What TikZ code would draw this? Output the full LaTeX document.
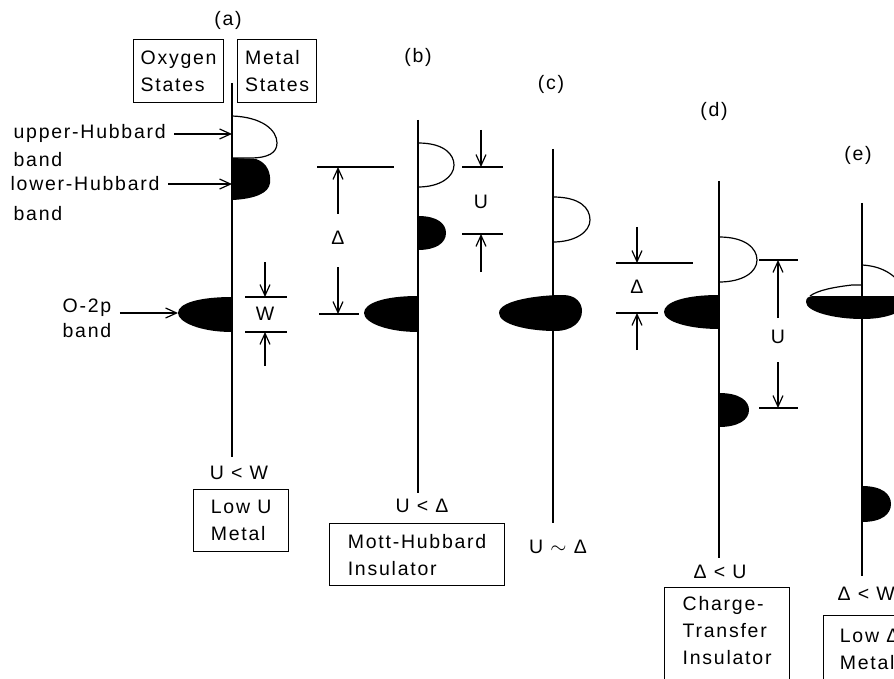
\documentclass[tikz,border=0pt]{standalone}
\usepackage{fontspec}
\setmainfont{Liberation Sans}[LetterSpace=9]
\usetikzlibrary{arrows.meta,positioning}

\begin{document}
\begin{tikzpicture}[x=1pt,y=-1pt,line width=1.2pt,
    font=\fontsize{19.5}{27}\selectfont,
    >={Straight Barb[length=11pt,width=10pt]},
    lbl/.style={anchor=base west,inner sep=0pt},
    clbl/.style={anchor=base,inner sep=0pt},
    casebox/.style={draw,anchor=north west,align=left,inner sep=0pt},
    occ/.style={fill=black},
    unocc/.style={draw,fill=white}]
  \useasboundingbox (0,0) rectangle (894,679);
  \clip (0,0) rectangle (894,679);

  % bands
  \draw[unocc] (232,116) .. controls (262,117) and (277,130) .. (277,143)
        .. controls (277,153) and (268,158) .. (250,158) -- (232,158);
  \fill[occ] (232,158) -- (256,159) .. controls (268,163) and (271,174) .. (270,183)
        .. controls (269,193) and (255,199) .. (232,200) -- cycle;
  \fill[occ] (232,297) .. controls (200,297) and (178,303) .. (178,313)
        .. controls (178,322) and (200,332) .. (232,332) -- cycle;
  \draw[unocc] (418,143) .. controls (445,143) and (454,155) .. (454,165)
        .. controls (454,177) and (440,187) .. (418,187);
  \fill[occ] (418,216) .. controls (438,216) and (446,224) .. (446,233)
        .. controls (446,243) and (436,250) .. (418,250) -- cycle;
  \fill[occ] (418,296) .. controls (385,296) and (364,303) .. (364,313)
        .. controls (364,323) and (388,332) .. (418,332) -- cycle;
  \draw[unocc] (553,197) .. controls (580,197) and (590,208) .. (590,220)
        .. controls (590,232) and (575,242) .. (553,242);
  \fill[occ] (499,313) .. controls (499,300) and (540,295) .. (563,295)
        .. controls (576,295) and (582,303) .. (582,311)
        .. controls (582,322) and (572,331) .. (555,331)
        .. controls (530,331) and (499,325) .. (499,313) -- cycle;
  \draw[unocc] (719,237) .. controls (745,237) and (757,248) .. (757,260)
        .. controls (757,272) and (743,282) .. (719,282);
  \fill[occ] (719,295) .. controls (685,295) and (664,302) .. (664,312)
        .. controls (664,322) and (690,329) .. (719,329) -- cycle;
  \fill[occ] (719,393) .. controls (740,393) and (749,401) .. (749,410)
        .. controls (749,420) and (738,427) .. (719,427) -- cycle;
  \draw[unocc] (862,265) .. controls (880,266) and (895,273) .. (905,290);
  \draw (862,285) -- (852,285) .. controls (835,287) and (818,290) .. (810,296);
  \fill[occ] (806,302) .. controls (806,298) and (808,296) .. (815,296) -- (910,296)
        -- (910,305) .. controls (895,316) and (880,319) .. (862,319)
        .. controls (835,319) and (806,312) .. (806,302) -- cycle;
  \fill[occ] (862,486) .. controls (882,486) and (891,494) .. (891,504)
        .. controls (891,514) and (882,522) .. (862,522) -- cycle;

  % axes
  \coordinate (a0) at (232,83);  \coordinate (a1) at (232,457);
  \coordinate (b0) at (418,120); \coordinate (b1) at (418,493);
  \coordinate (c0) at (553,149); \coordinate (c1) at (553,523);
  \coordinate (d0) at (719,181); \coordinate (d1) at (719,558);
  \coordinate (e0) at (862,203); \coordinate (e1) at (862,576);
  \foreach \ax in {a,b,c,d,e}
    \draw (\ax0) -- (\ax1);

  \node (pa) at (228,20) {(a)};
  \node (pb) at (418,57) {(b)};
  \node (pc) at (551,84) {(c)};
  \node (pd) at (714,111) {(d)};
  \node (pe) at (858,155) {(e)};

  \node[casebox,minimum width=90pt,minimum height=63pt] (oxy) at (133,39) {Oxygen\\States};
  \node[casebox,minimum width=79pt,minimum height=63pt] (met) at (237,39) {Metal\\States};

  \node[lbl] (uhb) at (13,139) {upper-Hubbard};
  \node[lbl] (uhbb) at (13,167) {band};
  \node[lbl] (lhb) at (10,191) {lower-Hubbard};
  \node[lbl] (lhbb) at (13,221) {band};
  \node[lbl] (otp) at (62,312) {O-2p};
  \node[lbl] (otpb) at (62,337) {band};
  \coordinate (otptip) at (178,313);
  \draw[->] ([xshift=8pt]uhb.east) -- (uhb.east -| a0);
  \draw[->] ([xshift=8pt]lhb.east) -- (lhb.east -| a0);
  \draw[->] ([xshift=8pt,yshift=-1pt]otp.base east) -- (otptip);

  % W
  \draw (245,297) -- (287,297);
  \draw (245,332) -- (287,332);
  \draw[->] (265,262) -- (265,297);
  \draw[->] (265,366) -- (265,332);
  \node (w) at (265,314) {W};
  % Delta and U, (b)
  \draw (317,167) -- (394,167);
  \draw (319,314) -- (359,314);
  \draw[->] (338,214) -- (338,167);
  \draw[->] (338,267) -- (338,314);
  \node (delb) at (338,238) {Δ};
  \draw (462,167) -- (503,167);
  \draw (462,234) -- (503,234);
  \draw[->] (481,130) -- (481,167);
  \draw[->] (481,272) -- (481,234);
  \node (ub) at (481,202) {U};
  % Delta and U, (d)
  \draw (616,263) -- (693,263);
  \draw (616,313) -- (658,313);
  \draw[->] (637,227) -- (637,263);
  \draw[->] (637,350) -- (637,313);
  \node (deld) at (637,287) {Δ};
  \draw (759,260) -- (798,260);
  \draw (759,408) -- (798,408);
  \draw[->] (778,318) -- (778,260);
  \draw[->] (778,362) -- (778,408);
  \node (ud) at (778,337) {U};

  \node[clbl] (cuw) at (239,479) {U < W};
  \node[clbl] (cud) at (422,512) {U < Δ};
  \node[clbl] (cus) at (558,553) {U $\sim$ Δ};
  \node[clbl] (cdu) at (720,578) {Δ < U};
  \node[lbl] (cdw) at (837,600) {Δ < W};

  \node[casebox,minimum width=95pt,minimum height=62pt] (lowu) at (193,489) {Low U\\Metal};
  \node[casebox,minimum width=175pt,minimum height=62pt] (mh) at (329,523) {Mott-Hubbard\\Insulator};
  \node[casebox,minimum width=125pt,inner ysep=9pt,text depth=110pt] (ct) at (664,587)
        {Charge-\\Transfer\\Insulator};
  \node[casebox,minimum width=92pt,inner ysep=13pt,text depth=80pt] (lowd) at (823,615)
        {Low Δ\\Metal};
\end{tikzpicture}
\end{document}
